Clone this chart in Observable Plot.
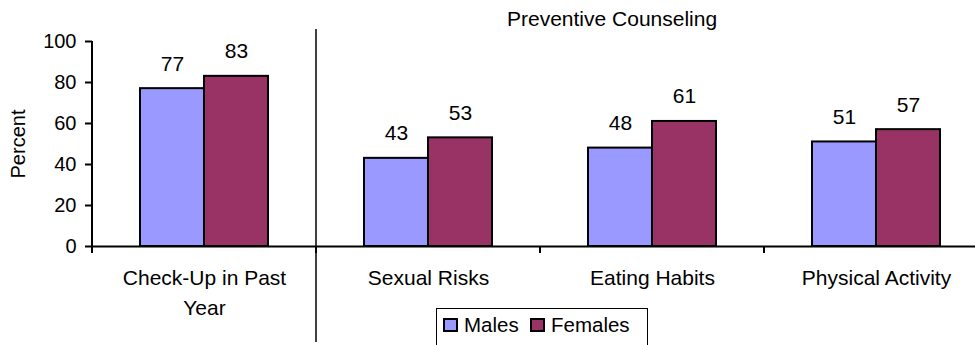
<!DOCTYPE html>
<html>
<head>
<meta charset="utf-8">
<script src="https://cdn.jsdelivr.net/npm/d3@7"></script>
<script src="https://cdn.jsdelivr.net/npm/@observablehq/plot@0.6"></script>
<style>
  html, body { margin: 0; padding: 0; background: #fff; overflow: hidden; }
  #wrap { position: relative; width: 975px; height: 345px; overflow: hidden;
          font-family: "Liberation Sans", Arial, sans-serif; color: #000; }
  #chart { position: absolute; left: 0; top: 0; }
  #title { position: absolute; left: 507px; top: 9px; font-size: 21px; line-height: 20px; white-space: nowrap; }
  #legendBox { position: absolute; left: 436px; top: 308px; width: 212px; height: 60px;
               border: 1.5px solid #000; box-sizing: border-box; background: #fff; }
  .sw { position: absolute; width: 15px; height: 14px; box-sizing: border-box; border: 2px solid #000; }
  .lt { position: absolute; font-size: 20.5px; line-height: 20px; white-space: nowrap; }
</style>
</head>
<body>
<div id="wrap">
  <div id="chart"></div>
  <div id="title"></div>
  <div id="legendBox"></div>
</div>
<script>
// ---- data ----
const categories = ["Check-Up in Past Year", "Sexual Risks", "Eating Habits", "Physical Activity"];
const tickLabels = ["Check-Up in Past\nYear", "Sexual Risks", "Eating Habits", "Physical Activity"];
const series = ["Males", "Females"];
const males = [77, 43, 48, 51];
const females = [83, 53, 61, 57];
const colors = ["#9999FF", "#993366"];
const yTicks = [0, 20, 40, 60, 80, 100];
const titleText = "Preventive Counseling";
const yLabel = "Percent";

const rows = [];
categories.forEach((c, i) => {
  rows.push({category: c, sex: series[0], value: males[i]});
  rows.push({category: c, sex: series[1], value: females[i]});
});

const chart = Plot.plot({
  width: 975,
  height: 345,
  marginLeft: 92,
  marginRight: -13,
  marginTop: 41,
  marginBottom: 99,
  style: {fontFamily: "Liberation Sans, Arial, sans-serif", fontSize: "20px", color: "#000", background: "transparent", overflow: "visible"},
  fx: {domain: categories, padding: 0, label: null},
  x: {domain: series, paddingInner: 0, paddingOuter: 0.75, axis: null},
  y: {domain: [0, 100]},
  color: {domain: series, range: colors},
  marks: [
    Plot.barY(rows, {fx: "category", x: "sex", y: "value", fill: "sex", stroke: "#000", strokeWidth: 2}),
    Plot.text(rows, {fx: "category", x: "sex", y: "value", text: d => String(d.value), dy: -18, lineAnchor: "bottom", fontSize: 21, fill: "#000"}),
    Plot.ruleY([0], {stroke: "#000", strokeWidth: 2}),
    Plot.axisY({ticks: yTicks, tickSize: 7, tickPadding: 9, strokeWidth: 2, fontSize: 20, label: yLabel, labelArrow: false, labelAnchor: "center", labelOffset: 82}),
    Plot.axisFx({anchor: "bottom", tickSize: 0, tickPadding: 18, fontSize: 21, lineHeight: 1.4, label: null,
                 tickFormat: d => tickLabels[categories.indexOf(d)]})
  ]
});
document.getElementById("chart").appendChild(chart);

// axis decorations placed with the chart's own scales
const fx = chart.scale("fx");
const ys = chart.scale("y");
const svg = d3.select(chart.tagName.toLowerCase() === "svg" ? chart : chart.querySelector("svg"));
const y0 = Math.round(ys.apply(0)), y100 = Math.round(ys.apply(100));
const bounds = categories.map(c => Math.round(fx.apply(c)));
const g = svg.append("g").attr("stroke", "#000");
g.append("line").attr("x1", bounds[0]).attr("x2", bounds[0]).attr("y1", y100).attr("y2", y0 + 1).attr("stroke-width", 2);
g.append("line").attr("x1", bounds[1]).attr("x2", bounds[1]).attr("y1", y100 - 12).attr("y2", 342).attr("stroke-width", 1.5);
bounds.forEach(b => g.append("line").attr("x1", b).attr("x2", b).attr("y1", y0).attr("y2", y0 + 7).attr("stroke-width", 2));

// title
document.getElementById("title").textContent = titleText;

// legend
const wrap = document.getElementById("wrap");
const swX = [443, 530], txX = [464, 551];
series.forEach((s, i) => {
  const sw = document.createElement("div");
  sw.className = "sw"; sw.style.left = swX[i] + "px"; sw.style.top = "318px"; sw.style.background = colors[i];
  wrap.appendChild(sw);
  const t = document.createElement("div");
  t.className = "lt"; t.style.left = txX[i] + "px"; t.style.top = "315px"; t.textContent = s;
  wrap.appendChild(t);
});
</script>
</body>
</html>
